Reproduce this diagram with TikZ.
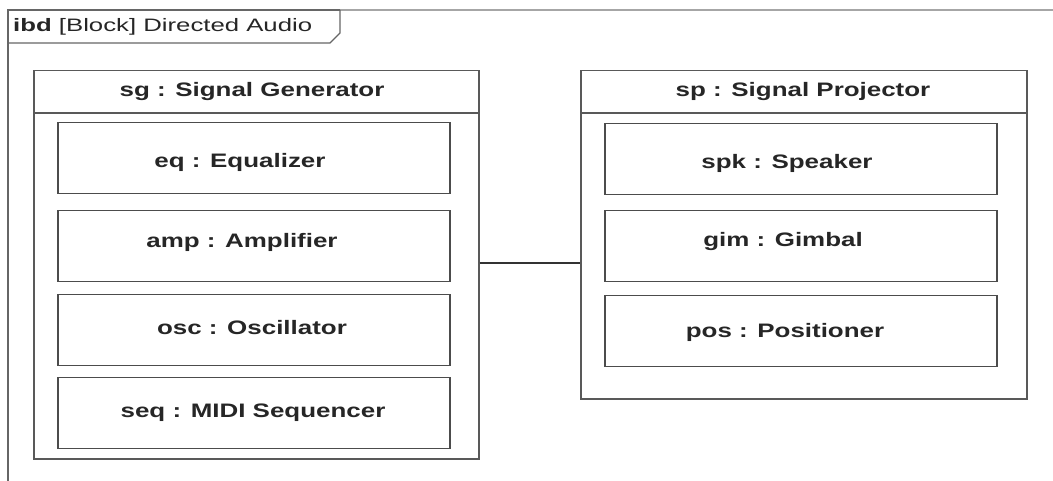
\documentclass[tikz,border=0pt]{standalone}
\usepackage{fontspec}
\setmainfont{Liberation Sans}
\usepackage{graphicx}
% wide lettering: horizontally stretched text
\newcommand\widetext[2][1.33]{\scalebox{#1}[1]{#2}}
\begin{document}
\begin{tikzpicture}[x=1pt,y=-1pt,
  frameline/.style={draw=black!60,line width=1.3pt},
  blockbox/.style={draw=black!65,line width=1.5pt,minimum width=445pt,anchor=north west,inner sep=0pt},
  blockline/.style={draw=black!65,line width=1.5pt},
  partbox/.style={draw=black!70,line width=1.5pt,minimum width=392pt,minimum height=71pt,inner sep=0pt},
  parttext/.style={inner sep=0pt,text=black!85,font=\bfseries\fontsize{19.5}{22}\selectfont},
  connector/.style={draw=black!80,line width=1.3pt}]
\useasboundingbox (0,0) rectangle (1053,481);
\fill[white] (0,0) rectangle (1053,481);

% diagram frame and its name tab
\draw[frameline] (8,481) -- (8,10) -- (340,10);
\draw[draw=black!35,line width=1.1pt] (340,10) -- (1053,10);
\draw[frameline] (8,43) -- (330,43) -- (340,33) -- (340,10);
\node[anchor=west,inner sep=0pt,text=black!85] (diagname) at (13,27)
  {\widetext[1.43]{\fontsize{18}{20}\selectfont\textbf{ibd} [Block] Directed Audio}};

% signal generator block
\node[blockbox,minimum height=388pt] (sg) at (33,70) {};
\node[parttext] (sgname) at (252,92) {\widetext{sg : Signal Generator}};
\coordinate (sgsep) at (0,113);
\draw[blockline] (sg.west |- sgsep) -- (sg.east |- sgsep);
\node[partbox] (eq)  at (254,158) {};
\node[partbox] (amp) at (254,246) {};
\node[partbox] (osc) at (254,330) {};
\node[partbox] (seq) at (254,413) {};
\node[parttext] (eqname)  at ([shift={(-14,4)}]eq.center)  {\widetext{eq : Equalizer}};
\node[parttext] (ampname) at ([shift={(-12,-4)}]amp.center) {\widetext{amp : Amplifier}};
\node[parttext] (oscname) at ([shift={(-2,-2)}]osc.center)  {\widetext{osc : Oscillator}};
\node[parttext] (seqname) at ([shift={(-1,0)}]seq.center)   {\widetext{seq : MIDI Sequencer}};

% signal projector block
\node[blockbox,minimum width=446pt,minimum height=328pt] (sp) at (580,70) {};
\node[parttext] (spname) at (803,92) {\widetext{sp : Signal Projector}};
\coordinate (spsep) at (0,113);
\draw[blockline] (sp.west |- spsep) -- (sp.east |- spsep);
\node[partbox] (spk) at (801,159) {};
\node[partbox] (gim) at (801,246) {};
\node[partbox] (pos) at (801,331) {};
\node[parttext] (spkname) at ([shift={(-14,4)}]spk.center)  {\widetext{spk : Speaker}};
\node[parttext] (gimname) at ([shift={(-18,-4)}]gim.center) {\widetext{gim : Gimbal}};
\node[parttext] (posname) at ([shift={(-16,1)}]pos.center)  {\widetext{pos : Positioner}};

% connector between the two blocks
\coordinate (link) at (0,263);
\draw[connector] (sg.east |- link) -- (sp.west |- link);
\end{tikzpicture}
\end{document}
